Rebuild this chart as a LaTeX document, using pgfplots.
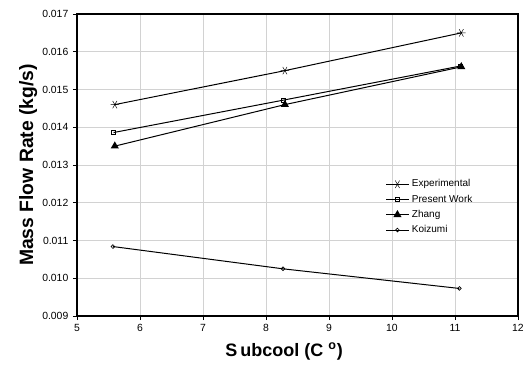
\documentclass[border=0pt]{standalone}
\usepackage{pgfplots}
\pgfplotsset{compat=1.18}
\usepackage{fontspec}
\setmainfont{Liberation Sans}
\begin{document}
\begin{tikzpicture}[x=1pt,y=1pt]
\useasboundingbox (-57.75,-42) rectangle (336.75,237);
\begin{axis}[
  at={(0,0)}, anchor=south west,
  scale only axis, width=330.75pt, height=226.5pt,
  xmin=5, xmax=12, ymin=0.009, ymax=0.017,
  xtick={5,6,...,12},
  ytick={0.009,0.010,...,0.017},
  yticklabel style={/pgf/number format/fixed,/pgf/number format/precision=3,/pgf/number format/fixed zerofill},
  scaled y ticks=false,
  /pgf/number format/assume math mode=true,
  tick label style={font=\fontsize{7.8}{8}\selectfont},
  grid=major,
  grid style={gray!35, line width=0.6pt},
  axis line style={black, line width=0.9pt},
  tick style={black, line width=0.6pt},
  tick align=outside, major tick length=3pt,
  xtick pos=bottom, ytick pos=left,
  xlabel={\textbf{S\,ubcool (C \textsuperscript{o})}},
  ylabel={\textbf{Mass Flow Rate (kg/s)}},
  xlabel style={font=\fontsize{13.5}{15}\selectfont, yshift=-1pt, xshift=-10pt},
  ylabel style={font=\fontsize{14.5}{16}\selectfont, yshift=-3pt},
  legend style={draw=none, fill=none, at={(0.69,0.47)}, anchor=north west,
    font=\fontsize{7.5}{8}\selectfont, row sep=0.5pt},
  legend cell align=left,
  every axis plot/.append style={black, line width=0.75pt},
]
\addplot[mark=asterisk, mark size=3.2pt, mark options={rotate=90, line width=0.35pt}] coordinates {(5.6,0.0146) (8.3,0.0155) (11.1,0.0165)};
\addlegendentry{Experimental}
\addplot[mark=square, mark size=1.5pt, mark options={line width=0.5pt}] coordinates {(5.58,0.01386) (8.28,0.01472) (11.08,0.01562)};
\addlegendentry{Present Work}
\addplot[mark=triangle*, mark size=2.8pt] coordinates {(5.6,0.0135) (8.3,0.0146) (11.1,0.0156)};
\addlegendentry{Zhang}
\addplot[mark=o, mark size=1.4pt, mark options={line width=0.5pt}] coordinates {(5.57,0.01084) (8.27,0.01025) (11.07,0.00973)};
\addlegendentry{Koizumi}
\end{axis}
\end{tikzpicture}
\end{document}
